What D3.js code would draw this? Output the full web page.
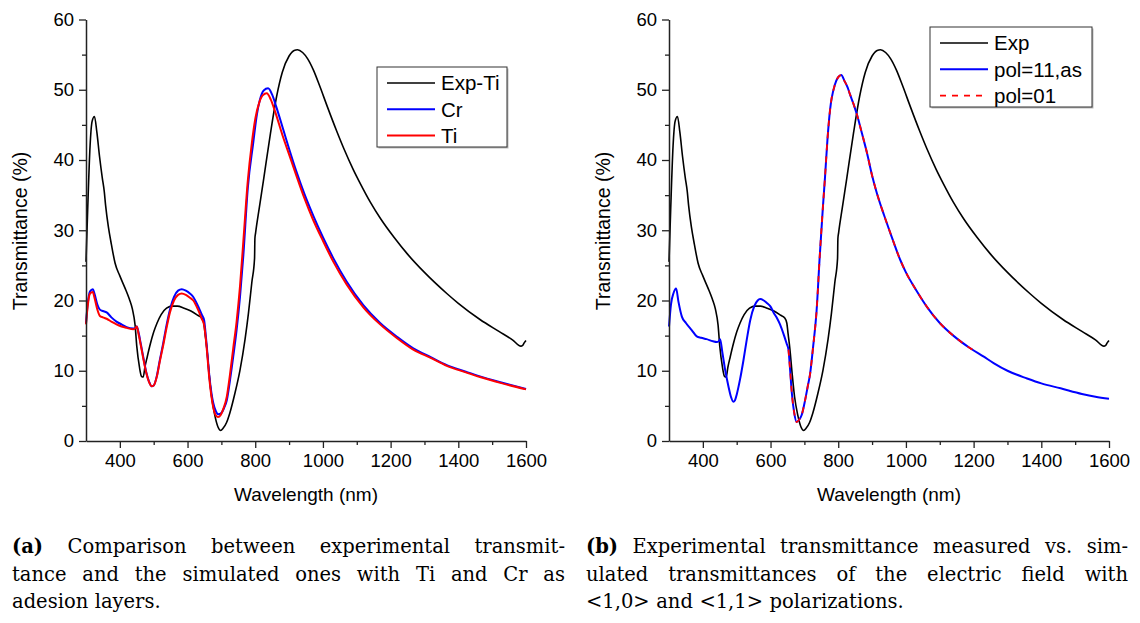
<!DOCTYPE html>
<html>
<head>
<meta charset="utf-8">
<script src="https://cdn.jsdelivr.net/npm/d3@7"></script>
<style>
  body { margin: 0; background: #fff; }
  svg { display: block; }
</style>
</head>
<body>
<svg id="chart" width="1140" height="623"></svg>
<script>
// ---- data: [wavelength (nm), transmittance (%)] ----
var expT = [
  [300,25.5],[305,33],[312,42],[318,45.5],[325,46.2],[332,44],[340,40.5],[348,37.5],[354,35.5],
  [358,33.5],[366,30.5],[375,28],[386,25.3],[400,23.5],[415,21.8],[428,20.2],[437,18.8],[445,16.5],
  [450,13.5],[458,10.5],[464,9.2],[469,9.1],[474,10.5],[481,12.0],[490,13.8],[500,15.5],[510,16.8],
  [522,18.0],[538,18.9],[555,19.2],[570,19.2],[590,18.9],[610,18.5],[630,17.9],[642,17.5],[648,16.8],
  [652,15.2],[657,13.2],[664,9.5],[671,6.3],[680,3.8],[690,2.0],[698,1.5],[705,1.8],[715,2.6],
  [725,4.0],[740,6.8],[755,10.1],[770,14.5],[780,18.2],[790,22.6],[798,26.0],[799,28.8],[801,29.6],
  [812,33.2],[824,37.0],[845,43.8],[863,49.0],[880,52.5],[900,54.8],[915,55.6],[925,55.7],[940,55.3],
  [955,54.4],[972,52.8],[990,50.6],[1013,47.6],[1040,44.2],[1062,41.6],[1090,38.6],[1112,36.5],
  [1140,34.0],[1171,31.6],[1210,29.0],[1250,26.6],[1300,24.0],[1366,21.0],[1400,19.6],[1464,17.3],
  [1520,15.6],[1560,14.4],[1585,13.5],[1590,13.6],[1595,14.0],[1600,14.3]
];

var crT = [
  [300,16.8],[305,19.5],[312,21.3],[320,21.6],[326,20.8],[333,19.5],[341,18.7],[350,18.5],[361,18.3],
  [375,17.6],[390,17.0],[405,16.6],[420,16.2],[440,16.0],[447,16.1],[450,16.3],[455,15.5],[462,13.8],
  [469,12.0],[478,9.8],[486,8.5],[494,7.8],[500,7.9],[509,9.2],[518,11.5],[528,13.9],[538,16.5],
  [548,18.7],[560,20.5],[572,21.4],[583,21.6],[595,21.4],[607,21.0],[617,20.5],[630,19.3],[642,18.0],
  [649,17.2],[653,15.5],[657,13.4],[665,9.0],[676,5.4],[684,4.2],[691,3.8],[700,4.0],[708,4.7],
  [716,5.8],[725,8.5],[735,12.0],[745,15.8],[755,20.5],[765,26.5],[778,36],[794,42.4],[805,46.5],
  [814,48.6],[825,49.9],[838,50.2],[850,49.3],[862,47.6],[883,44.3],[900,41.6],[922,38.3],[945,35.2],
  [972,32.0],[1000,29.0],[1031,26.0],[1070,22.7],[1120,19.3],[1169,16.8],[1220,14.8],[1267,13.2],
  [1320,11.9],[1366,10.8],[1420,9.9],[1464,9.2],[1530,8.3],[1600,7.4]
];

var tiT = [
  [300,16.6],[305,19.2],[312,21.0],[320,21.2],[326,20.2],[333,18.8],[341,17.8],[350,17.6],[361,17.4],
  [375,17.0],[390,16.6],[405,16.3],[420,16.1],[440,15.9],[447,16.1],[450,16.3],[455,15.3],[462,13.6],
  [469,11.8],[478,9.7],[486,8.4],[494,7.8],[500,7.9],[509,9.1],[518,11.3],[528,13.6],[538,16.1],
  [548,18.3],[560,20.0],[572,20.8],[583,21.0],[595,20.8],[607,20.4],[617,20.0],[630,18.8],[642,17.4],
  [649,16.5],[653,15.0],[657,13.0],[665,8.6],[676,4.8],[684,3.6],[690,3.4],[698,3.7],[706,4.6],
  [716,6.3],[725,9.3],[735,13.2],[745,17.0],[755,22.0],[765,28.5],[778,37],[790,42.4],[800,45.8],
  [812,48.2],[822,49.2],[834,49.5],[846,48.6],[858,47.0],[880,43.6],[900,40.8],[920,38.0],[945,34.6],
  [970,31.6],[1000,28.5],[1031,25.5],[1070,22.3],[1120,19.0],[1169,16.6],[1220,14.6],[1267,13.0],
  [1320,11.8],[1366,10.7],[1420,9.8],[1464,9.1],[1530,8.2],[1600,7.35]
];

var pol11T = [
  [300,16.3],[306,19.5],[313,21.0],[321,21.7],[328,19.8],[338,17.7],[350,16.8],[367,15.8],[382,14.9],
  [395,14.7],[411,14.5],[430,14.2],[441,14.1],[447,14.2],[451,14.5],[458,12.5],[466,10.1],[476,7.7],
  [483,6.3],[490,5.6],[495,5.8],[500,6.6],[510,8.8],[520,11.5],[530,14.5],[540,17.2],[552,19.2],
  [562,20.0],[569,20.2],[580,20.0],[590,19.6],[599,19.2],[610,18.2],[620,17.4],[628,16.6],[640,15.0],
  [648,13.8],[653,13.0],[658,10.0],[663,6.8],[670,4.0],[677,2.7],[684,3.0],[692,3.7],[700,5.3],
  [710,7.8],[717,9.6],[726,13.5],[736,18.5],[745,26.0],[755,33.5],[761,37.6],[768,42.8],[776,47.2],
  [790,50.7],[800,51.8],[809,52.1],[818,51.3],[828,50.3],[835,49.3],[845,48.0],[855,46.5],[870,43.8],
  [885,41.0],[900,37.8],[914,35.3],[935,32.2],[954,29.6],[983,25.8],[1000,24.0],[1030,21.5],
  [1062,19.1],[1100,16.8],[1140,15.0],[1190,13.2],[1230,12.0],[1259,11.1],[1300,10.0],[1358,8.9],
  [1400,8.2],[1457,7.5],[1520,6.7],[1560,6.3],[1600,6.0]
];

var pol01T = [
  [653,13.0],[658,10.0],[663,6.8],[670,4.0],[677,2.7],[684,3.0],[692,3.7],[700,5.3],[710,7.8],
  [717,9.6],[726,13.5],[736,18.5],[745,26.0],[755,33.5],[761,37.6],[768,42.8],[776,47.2],[790,50.7],
  [800,51.8],[809,52.1],[818,51.3],[828,50.3],[835,49.3],[845,48.0],[855,46.5],[870,43.8],[885,41.0],
  [900,37.8],[914,35.3],[935,32.2],[954,29.6],[983,25.8],[1000,24.0],[1030,21.5],[1062,19.1],
  [1100,16.8],[1140,15.0],[1190,13.2],[1200,12.9]
];

var xMajor = [400, 600, 800, 1000, 1200, 1400, 1600];
var xMinor = [500, 700, 900, 1100, 1300, 1500];
var yMajor = [0, 10, 20, 30, 40, 50, 60];
var yMinor = [5, 15, 25, 35, 45, 55];

var legendA = ["Exp-Ti", "Cr", "Ti"];
var legendB = ["Exp", "pol=11,as", "pol=01"];

var captionA = [
  [{t: "(a)", b: true}, {t: "Comparison between experimental transmit-"}],
  [{t: "tance and the simulated ones with Ti and Cr as"}],
  [{t: "adesion layers."}]
];
var captionB = [
  [{t: "(b)", b: true}, {t: "Experimental transmittance measured vs. sim-"}],
  [{t: "ulated transmittances of the electric field with"}],
  [{t: "<1,0> and <1,1> polarizations."}]
];

var sans = "'Liberation Sans', Arial, sans-serif";
var serif = "'DejaVu Serif', serif";

var svg = d3.select("#chart");

function drawPanel(left, series, labels, legendBox) {
  var x = d3.scaleLinear().domain([300, 1600]).range([left, left + 440]);
  var y = d3.scaleLinear().domain([0, 60]).range([441, 19.5]);
  var g = svg.append("g");

  // lines
  var line = d3.line()
    .x(function (d) { return x(d[0]); })
    .y(function (d) { return y(d[1]); })
    .curve(d3.curveMonotoneX);

  series.forEach(function (s) {
    g.append("path")
      .datum(s.data)
      .attr("fill", "none")
      .attr("stroke", s.color)
      .attr("stroke-width", s.width)
      .attr("stroke-dasharray", s.dash || null)
      .attr("d", line);
  });

  // minor ticks
  g.append("g")
    .attr("transform", "translate(0,441)")
    .call(d3.axisBottom(x).tickValues(xMinor).tickSize(4).tickFormat(""))
    .call(function (a) { a.select(".domain").remove(); });
  g.append("g")
    .attr("transform", "translate(" + left + ",0)")
    .call(d3.axisLeft(y).tickValues(yMinor).tickSize(4).tickFormat(""))
    .call(function (a) { a.select(".domain").remove(); });

  // major axes
  var xa = g.append("g")
    .attr("transform", "translate(0,441)")
    .call(d3.axisBottom(x).tickValues(xMajor).tickSize(7).tickSizeOuter(0)
      .tickPadding(6).tickFormat(d3.format("d")));
  var ya = g.append("g")
    .attr("transform", "translate(" + left + ",0)")
    .call(d3.axisLeft(y).tickValues(yMajor).tickSize(7).tickSizeOuter(0)
      .tickPadding(5).tickFormat(d3.format("d")));

  [xa, ya].forEach(function (a) {
    a.select(".domain").attr("stroke", "#222").attr("stroke-width", 1.5);
    a.selectAll(".tick text").attr("font-family", sans).attr("font-size", 18.5).attr("fill", "#000");
  });
  g.selectAll(".tick line").attr("stroke", "#222").attr("stroke-width", 1.3);

  // axis titles
  g.append("text")
    .attr("x", left + 220)
    .attr("y", 501)
    .attr("text-anchor", "middle")
    .attr("font-family", sans)
    .attr("font-size", 19)
    .text("Wavelength (nm)");
  g.append("text")
    .attr("transform", "translate(" + (left - 59) + ",231) rotate(-90)")
    .attr("text-anchor", "middle")
    .attr("font-family", sans)
    .attr("font-size", 19.5)
    .text("Transmittance (%)");

  // legend
  var lg = g.append("g");
  lg.append("rect")
    .attr("x", legendBox.x + 1.5).attr("y", legendBox.y + 1.5)
    .attr("width", legendBox.w).attr("height", legendBox.h)
    .attr("fill", "#bbb");
  lg.append("rect")
    .attr("x", legendBox.x).attr("y", legendBox.y)
    .attr("width", legendBox.w).attr("height", legendBox.h)
    .attr("fill", "#fff").attr("stroke", "#333").attr("stroke-width", 1);
  labels.forEach(function (lab, i) {
    var ry = legendBox.y + 16 + i * 26.3;
    var s = series[i];
    lg.append("line")
      .attr("x1", legendBox.x + 10).attr("x2", legendBox.x + 58)
      .attr("y1", ry).attr("y2", ry)
      .attr("stroke", s.color).attr("stroke-width", s.width)
      .attr("stroke-dasharray", s.dash || null);
    lg.append("text")
      .attr("x", legendBox.x + 64).attr("y", ry)
      .attr("dy", "0.36em")
      .attr("font-family", sans).attr("font-size", 20.5)
      .text(lab);
  });
}

drawPanel(86, [
  {data: expT, color: "#000", width: 1.6},
  {data: crT, color: "#0000ff", width: 2},
  {data: tiT, color: "#ff0000", width: 2}
], legendA, {x: 377, y: 67, w: 130, h: 80});

drawPanel(669, [
  {data: expT, color: "#000", width: 1.6},
  {data: pol11T, color: "#0000ff", width: 2},
  {data: pol01T, color: "#ff0000", width: 1.8, dash: "6,6"}
], legendB, {x: 930, y: 27, w: 162, h: 80});

// captions, justified like the LaTeX source
function caption(lines, x0, x1) {
  var g = svg.append("g").attr("font-family", serif).attr("font-size", 19.5).attr("fill", "#000");
  lines.forEach(function (parts, li) {
    var yb = 553 + li * 27.5;
    var words = [];
    parts.forEach(function (p) {
      p.t.split(" ").forEach(function (w) { if (w) words.push({t: w, b: p.b}); });
    });
    var nodes = words.map(function (w) {
      return g.append("text").attr("y", yb)
        .attr("font-weight", w.b ? "bold" : "normal").text(w.t);
    });
    var widths = nodes.map(function (n) { return n.node().getComputedTextLength(); });
    var justify = li < lines.length - 1;
    var gap = justify ? (x1 - x0 - d3.sum(widths)) / (words.length - 1) : 6.5;
    var cx = x0;
    nodes.forEach(function (n, i) { n.attr("x", cx); cx += widths[i] + gap; });
  });
}
caption(captionA, 12, 565);
caption(captionB, 586, 1128);
</script>
</body>
</html>
